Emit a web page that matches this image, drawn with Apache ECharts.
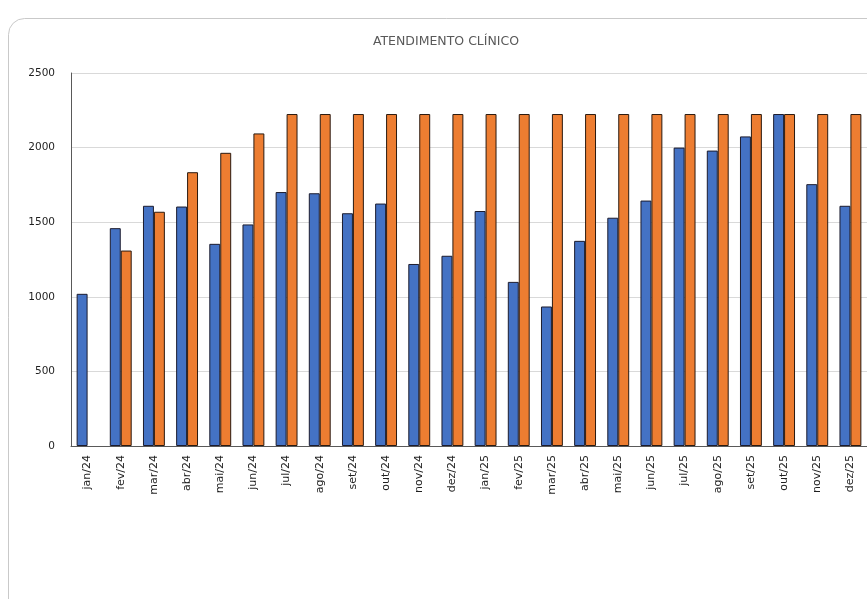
<!DOCTYPE html>
<html>
<head>
<meta charset="utf-8">
<script src="https://cdn.jsdelivr.net/npm/echarts@6/dist/echarts.min.js"></script>
<style>
html,body{margin:0;padding:0;background:#fff;}
#c{width:867px;height:599px;}
</style>
</head>
<body>
<div id="c"></div>
<script>
const categories = ["jan/24","fev/24","mar/24","abr/24","mai/24","jun/24","jul/24","ago/24","set/24","out/24","nov/24","dez/24",
  "jan/25","fev/25","mar/25","abr/25","mai/25","jun/25","jul/25","ago/25","set/25","out/25","nov/25","dez/25"];
const realizado = [1020,1460,1610,1605,1355,1485,1702,1694,1560,1625,1220,1275,
  1575,1100,935,1375,1530,1645,2000,1980,2075,2225,1755,1610];
const meta = [null,1310,1570,1835,1965,2095,2225,2225,2225,2225,2225,2225,
  2225,2225,2225,2225,2225,2225,2225,2225,2225,2225,2225,2225];
const yTicks = [0,500,1000,1500,2000,2500];

const chart = echarts.init(document.getElementById('c'), null, {renderer:'canvas'});
const font = '"DejaVu Sans", "Noto Sans", sans-serif';
chart.setOption({
  animation:false,
  backgroundColor:'#fff',
  graphic:[{
    type:'rect', z:-1,
    shape:{x:8.5, y:18.5, width:900, height:600, r:16},
    style:{fill:'#fff', stroke:'#c9c9c9', lineWidth:1}
  }],
  title:{
    text:'ATENDIMENTO CLÍNICO',
    left:441, textAlign:'center', top:30,
    textStyle:{fontFamily:font, fontSize:12.5, fontWeight:'normal', color:'#595959'}
  },
  grid:{left:71, top:73, width:797, height:373, containLabel:false},
  xAxis:{
    type:'category', data:categories,
    axisLine:{lineStyle:{color:'#595959', width:1}},
    axisTick:{show:false},
    axisLabel:{rotate:90, interval:0, margin:9, fontFamily:font, fontSize:11, color:'#1f1f1f'}
  },
  yAxis:{
    type:'value', min:yTicks[0], max:yTicks[yTicks.length-1], interval:500,
    axisLine:{show:true, lineStyle:{color:'#595959', width:1}},
    axisTick:{show:false},
    splitLine:{lineStyle:{color:'#d9d9d9', width:1}},
    axisLabel:{margin:16, fontFamily:font, fontSize:10.5, color:'#1f1f1f',
      formatter:function(v){return String(v);}}
  },
  series:[
    {type:'bar', name:'Realizado', data:realizado, barGap:'0%', barCategoryGap:'34%',
     itemStyle:{color:'#4472C4', borderColor:'#1c1c2e', borderWidth:1}},
    {type:'bar', name:'Meta', data:meta, barGap:'0%', barCategoryGap:'34%',
     itemStyle:{color:'#ED7D31', borderColor:'#2a1a10', borderWidth:1}}
  ]
});
</script>
</body>
</html>
